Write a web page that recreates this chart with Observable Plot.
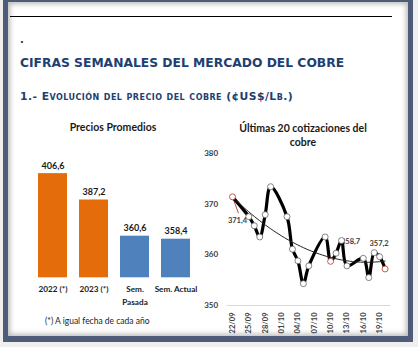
<!DOCTYPE html>
<html>
<head>
<meta charset="utf-8">
<script src="https://cdn.jsdelivr.net/npm/d3@7"></script>
<script src="https://cdn.jsdelivr.net/npm/@observablehq/plot@0.6"></script>
<style>
  html, body { margin: 0; padding: 0; }
  body { width: 418px; height: 347px; background: #efefef; position: relative; overflow: hidden; font-family: Lato, "Open Sans", sans-serif; }
  #frame { position: absolute; left: 3px; top: -3px; width: 410px; height: 345px; box-sizing: border-box;
           border: 5.5px solid #4e5c7a; border-bottom-width: 6px; background: #fff;
           box-shadow: inset 0 0 5px 2px rgba(60,60,60,0.35); }
  .abs { position: absolute; white-space: nowrap; }
  #rule { left: 10px; top: 16px; width: 382px; height: 1px; background: #000; }
  #dot { left: 20px; top: 34px; font: bold 10px "DejaVu Sans"; color: #333; }
  #title { left: 20px; top: 56px; font: bold 12.3px "DejaVu Sans"; color: #213f70; }
  #subtitle { left: 20px; top: 90px; font: bold 10.8px "DejaVu Sans"; letter-spacing: 0.45px; color: #213f70; font-variant: small-caps; }
  .ctitle { font: bold 10.5px Lato; color: #1a1a1a; text-align: center; }
  #barTitle { left: 40px; top: 121px; width: 146px; }
  #lineTitle { left: 228px; top: 121px; width: 150px; line-height: 14px; white-space: normal; }
  #foot { left: 45px; top: 316px; font: 8.5px Lato; color: #222; }
  #bars { left: 0px; top: 150px; }
  #line { left: 195px; top: 145px; }
</style>
</head>
<body>
<div id="frame"></div>
<div id="rule" class="abs"></div>
<div id="dot" class="abs">.</div>
<div id="title" class="abs">CIFRAS SEMANALES DEL MERCADO DEL COBRE</div>
<div id="subtitle" class="abs">1.- Evolución del precio del cobre (¢US$/Lb.)</div>
<div id="barTitle" class="abs ctitle">Precios Promedios</div>
<div id="lineTitle" class="abs ctitle">Últimas 20 cotizaciones del cobre</div>
<div id="foot" class="abs">(*) A igual fecha de cada año</div>
<div id="bars" class="abs"></div>
<div id="line" class="abs"></div>
<script>
// ---- Bar chart data ----
const barCategories = ["2022 (*)", "2023 (*)", "Sem. Pasada", "Sem. Actual"];
const barValues = [406.6, 387.2, 360.6, 358.4];

// ---- Line chart data ----
const quoteDates = ["2023-09-22","2023-09-25","2023-09-26","2023-09-27","2023-09-28","2023-09-29",
  "2023-10-02","2023-10-03","2023-10-04","2023-10-05","2023-10-06",
  "2023-10-09","2023-10-10","2023-10-11","2023-10-12","2023-10-13",
  "2023-10-16","2023-10-17","2023-10-18","2023-10-19","2023-10-20"];
const quotePrices = [371.4,367.5,365.7,363.5,367.9,373.4,
  367.5,361.1,358.8,354.3,357.8,
  363.5,358.7,360.3,362.8,357.8,
  359.3,355.5,360.4,359.6,357.2];
const labeledDates = ["2023-09-22","2023-10-10","2023-10-20"];
const yTicks = [350, 360, 370, 380];
const xTickLabels = ["2023-09-22","2023-09-25","2023-09-28","2023-10-01","2023-10-04",
  "2023-10-07","2023-10-10","2023-10-13","2023-10-16","2023-10-19"];

const fmt = v => v.toFixed(1).replace(".", ",");
const ORANGE = "#e46c0a", BLUE = "#4f81bd";

// ---- Bars ----
const bars = barCategories.map((c, i) => ({cat: c, value: barValues[i]}));
const barPlot = Plot.plot({
  width: 210, height: 160,
  marginTop: 4.9, marginBottom: 32.7, marginLeft: 24, marginRight: 6,
  style: {fontFamily: "Lato, sans-serif", color: "#1a1a1a", background: "transparent"},
  x: {domain: barCategories, padding: 0.286},
  y: {domain: [330, 420], axis: null},
  marks: [
    Plot.barY(bars, {x: "cat", y1: 330, y2: "value", fill: d => d.cat.includes("(*)") ? ORANGE : BLUE}),
    Plot.text(bars, {x: "cat", y: "value", text: d => fmt(d.value), dy: -8, fontSize: 9, fontWeight: "bold", fill: "#1a1a1a"}),
    Plot.axisX({tickSize: 0, tickPadding: 5, fontSize: 8.2, fontWeight: "bold", label: null, lineHeight: 1.6,
      tickFormat: d => d === "Sem. Pasada" ? "Sem.\nPasada" : d})
  ]
});
document.getElementById("bars").appendChild(barPlot);

// ---- Line ----
const parse = d3.utcParse("%Y-%m-%d");
const series = quoteDates.map((d, i) => ({date: parse(d), price: quotePrices[i], key: d}));
const byKey = k => series.filter(d => d.key === k);

// quadratic (order 2 polynomial) trendline, least squares on the data
const t0 = series[0].date;
const xs = series.map(d => (d.date - t0) / 864e5), ys = series.map(d => d.price);
function quadFit(x, y) {
  let S = [0,0,0,0,0], T = [0,0,0];
  for (let i = 0; i < x.length; i++) {
    let p = 1;
    for (let k = 0; k < 5; k++) { S[k] += p; p *= x[i]; }
    T[0] += y[i]; T[1] += y[i]*x[i]; T[2] += y[i]*x[i]*x[i];
  }
  const A = [[S[0],S[1],S[2],T[0]],[S[1],S[2],S[3],T[1]],[S[2],S[3],S[4],T[2]]];
  for (let c = 0; c < 3; c++) {
    for (let r = c+1; r < 3; r++) { const f = A[r][c]/A[c][c]; for (let k = c; k < 4; k++) A[r][k] -= f*A[c][k]; }
  }
  const b = [0,0,0];
  for (let r = 2; r >= 0; r--) { let s = A[r][3]; for (let k = r+1; k < 3; k++) s -= A[r][k]*b[k]; b[r] = s/A[r][r]; }
  return b;
}
const coef = quadFit(xs, ys);
const lastX = xs[xs.length - 1];
const trend = d3.range(0, lastX + 0.001, 0.5).map(t => ({date: new Date(+t0 + t*864e5), price: coef[0] + coef[1]*t + coef[2]*t*t}));

const RED = "#b3342e";
const leaderShape = {draw(context, l) { context.moveTo(0, 0); context.lineTo(0, -l); }};
const labelStyle = {x: "date", y: "price", text: d => fmt(d.price), fontSize: 7.5, fontWeight: "bold", fill: "#404040"};

const linePlot = Plot.plot({
  width: 215, height: 195,
  marginTop: 7.7, marginBottom: 35, marginLeft: 31.55, marginRight: 19.95,
  style: {fontFamily: "Lato, sans-serif", color: "#404040", background: "transparent"},
  x: {type: "utc", domain: [parse("2023-09-21"), parse("2023-10-21")]},
  y: {domain: [350, 380]},
  marks: [
    Plot.ruleY([350], {stroke: "#d9d9d9"}),
    Plot.axisY({ticks: yTicks, tickSize: 0, tickPadding: 9, fontSize: 8, fontWeight: "bold", label: null}),
    Plot.axisX({ticks: xTickLabels.map(parse), tickFormat: d3.utcFormat("%d/%m"), tickRotate: -90,
      tickSize: 0, tickPadding: 7, fontSize: 7.5, fontWeight: "bold", label: null}),
    Plot.text(byKey("2023-09-22"), {...labelStyle, dx: 5, dy: 24}),
    Plot.text(byKey("2023-10-10"), {...labelStyle, dx: 20, dy: -20}),
    Plot.text(byKey("2023-10-20"), {...labelStyle, dx: -6, dy: -25}),
    Plot.vector(byKey("2023-09-22"), {x: "date", y: "price", anchor: "start", length: 17, rotate: 160,
      shape: leaderShape, stroke: RED, strokeWidth: 0.8}),
    Plot.vector(byKey("2023-10-20"), {x: "date", y: "price", anchor: "start", length: 16, rotate: -20,
      shape: leaderShape, stroke: RED, strokeWidth: 0.8}),
    Plot.line(series, {x: "date", y: "price", curve: "catmull-rom", stroke: "#000", strokeWidth: 3.2}),
    Plot.line(trend, {x: "date", y: "price", curve: "linear", stroke: "#222", strokeWidth: 1}),
    Plot.dot(series, {x: "date", y: "price", r: 3, fill: "white",
      stroke: d => labeledDates.includes(d.key) ? RED : "#666", strokeWidth: 0.8})
  ]
});
document.getElementById("line").appendChild(linePlot);
</script>
</body>
</html>
